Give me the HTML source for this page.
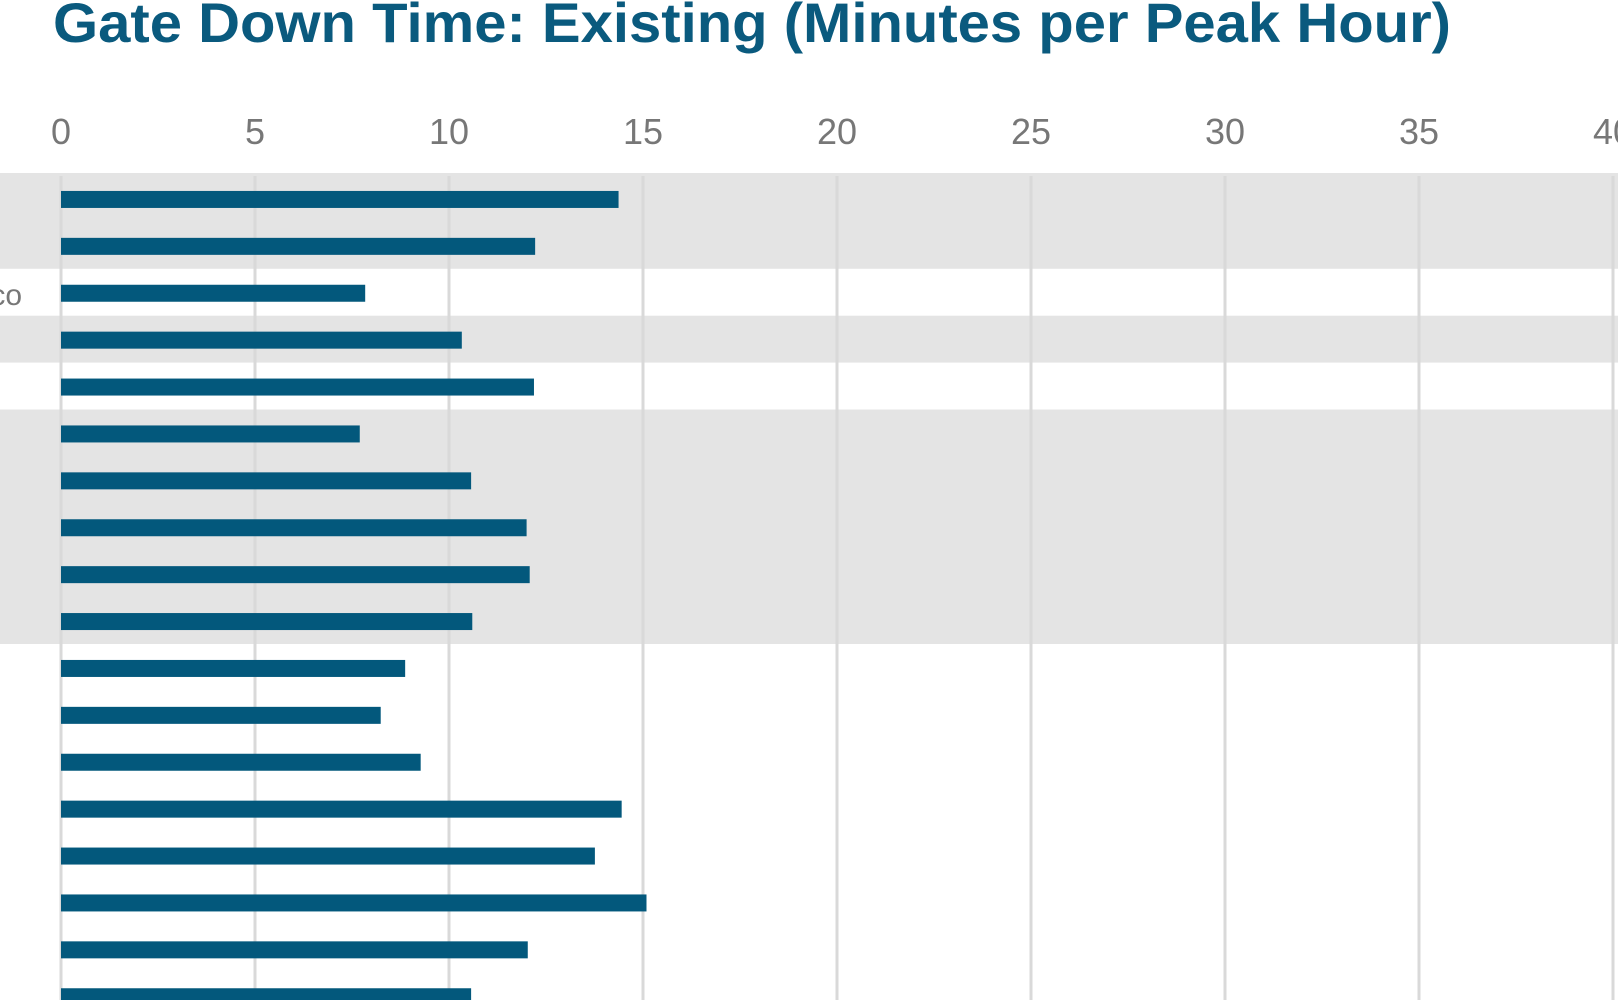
<!DOCTYPE html>
<html><head><meta charset="utf-8"><style>
html,body{margin:0;padding:0;background:#fff;width:1618px;height:1000px;overflow:hidden}
svg{display:block}
text{font-family:"Liberation Sans",sans-serif}
</style></head><body>
<svg id="chart" width="1618" height="1000" viewBox="0 0 1618 1000">
<text x="53" y="42" font-size="56" font-weight="bold" fill="#0a5a7e" textLength="1398" lengthAdjust="spacingAndGlyphs">Gate Down Time: Existing (Minutes per Peak Hour)</text>
<g id="bands"></g><g id="grid"></g><g id="ticks"></g><g id="bars"></g>
<text x="22" y="305" font-size="30" fill="#777" text-anchor="end">co</text>
</svg>
<script>
const values = [14.37, 12.22, 7.84, 10.33, 12.19, 7.70, 10.57, 12.0, 12.08, 10.6, 8.87, 8.24, 9.27, 14.45, 13.76, 15.09, 12.03, 10.57];
const tickValues = [0, 5, 10, 15, 20, 25, 30, 35, 40];
const tickLabels = ["0", "5", "10", "15", "20", "25", "30", "35", "40"];
const bandRows = [[0, 1], [3, 3], [5, 9]];

const NS = "http://www.w3.org/2000/svg";
const x0 = 61, xPerUnit = (1613 - 61) / 40;
const x = v => x0 + v * xPerUnit;
const yTop = 176, rowH = 46.9;
const yCenter = i => yTop + rowH * (i + 0.5);
function mk(tag, attrs, parent) {
  const e = document.createElementNS(NS, tag);
  for (const k in attrs) e.setAttribute(k, attrs[k]);
  document.getElementById(parent).appendChild(e);
  return e;
}
bandRows.forEach(b => {
  const top = b[0] === 0 ? 173 : yCenter(b[0]) - rowH / 2 - 1;
  const bot = yCenter(b[1]) + rowH / 2 - 1;
  const r = mk("rect", {x: 0, y: top, width: 1618, height: bot - top, fill: "#e4e4e4"}, "bands");
  
  
});
tickValues.forEach((v, i) => {
  const l = mk("line", {x1: x(v), x2: x(v), y1: 176, y2: 1000, stroke: "#d9d9d9", "stroke-width": 3}, "grid");
  
  
  const t = mk("text", {x: x(v), y: 144, "font-size": 36, fill: "#777", "text-anchor": "middle"}, "ticks");
  t.textContent = tickLabels[i];
  
  
});
values.forEach((v, i) => {
  const r = mk("rect", {x: x(0), y: yCenter(i) - 8.5, width: x(v) - x(0), height: 17, fill: "#03587c"}, "bars");
  
  
});
</script>
</body></html>
